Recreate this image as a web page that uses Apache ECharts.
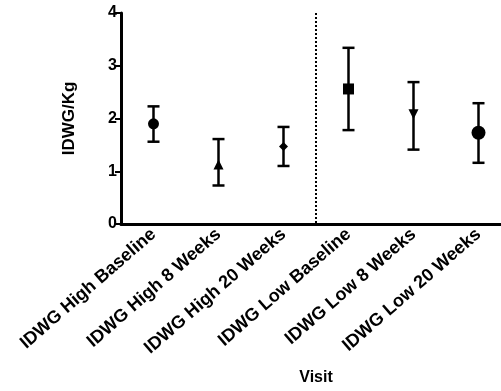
<!DOCTYPE html>
<html><head><meta charset="utf-8">
<script src="https://cdn.jsdelivr.net/npm/echarts@6/dist/echarts.min.js"></script>
<style>html,body{margin:0;padding:0;background:#fff;overflow:hidden}#c{width:520px;height:391px}</style>
</head><body><div id="c"></div>
<script>
const categories = ['IDWG High Baseline','IDWG High 8 Weeks','IDWG High 20 Weeks','IDWG Low Baseline','IDWG Low 8 Weeks','IDWG Low 20 Weeks'];
const means = [1.90, 1.13, 1.47, 2.56, 2.08, 1.73];
const upper = [2.23, 1.61, 1.84, 3.34, 2.69, 2.29];
const lower = [1.56, 0.73, 1.10, 1.78, 1.41, 1.16];
const symbols = ['circle','triangle','diamond','rect','path://M0,0L10,0L5,10Z','circle'];
const symbolSizes = [11, 10, 9, 11, 10, 14];
const yTicks = [0, 1, 2, 3, 4];
const dividerAt = 2.5;

const chart = echarts.init(document.getElementById('c'), null, {renderer:'canvas'});
const font = '"Liberation Sans", Arial, sans-serif';
const errData = categories.map((c,i)=>[i, lower[i], upper[i]]);
chart.setOption({
  animation:false,
  backgroundColor:'#fff',
  grid:{left:121, top:13, height:211, width:390, containLabel:false},
  xAxis:{type:'category', data:categories, boundaryGap:true,
    axisLine:{lineStyle:{color:'#000', width:3}},
    axisTick:{alignWithLabel:true, length:6, lineStyle:{color:'#000', width:3}},
    axisLabel:{rotate:41, color:'#000', fontWeight:'bold', fontSize:18, fontFamily:font, margin:8, interval:0},
    name:'Visit', nameLocation:'middle', nameGap:146,
    nameTextStyle:{color:'#000', fontWeight:'bold', fontSize:16, fontFamily:font}},
  yAxis:{type:'value', min:yTicks[0], max:yTicks[yTicks.length-1], interval:1,
    axisLine:{show:true, lineStyle:{color:'#000', width:3}},
    axisTick:{show:true, length:6, lineStyle:{color:'#000', width:2}},
    splitLine:{show:false},
    axisLabel:{color:'#000', fontWeight:'bold', fontSize:16, fontFamily:font, margin:4},
    name:'IDWG/Kg', nameLocation:'middle', nameGap:43, nameRotate:90,
    nameTextStyle:{color:'#000', fontWeight:'bold', fontSize:17, fontFamily:font}},
  series:[
    {type:'custom', data:errData, z:3,
      renderItem:function(params, api){
        const x = api.value(0);
        const lo = api.coord([x, api.value(1)]);
        const hi = api.coord([x, api.value(2)]);
        const hw = 6;
        const st = {stroke:'#000', lineWidth:2.5};
        return {type:'group', children:[
          {type:'line', shape:{x1:hi[0], y1:hi[1], x2:lo[0], y2:lo[1]}, style:st},
          {type:'line', shape:{x1:hi[0]-hw, y1:hi[1], x2:hi[0]+hw, y2:hi[1]}, style:st},
          {type:'line', shape:{x1:lo[0]-hw, y1:lo[1], x2:lo[0]+hw, y2:lo[1]}, style:st}
        ]};
      }},
    {type:'custom', data:[[dividerAt]], z:1,
      renderItem:function(params, api){
        const v = api.value(0);
        const a = api.coord([Math.floor(v), yTicks[yTicks.length-1]]);
        const b = api.coord([Math.ceil(v), yTicks[0]]);
        const x = (a[0]+b[0])/2;
        return {type:'line', shape:{x1:x, y1:a[1], x2:x, y2:b[1]}, style:{stroke:'#000', lineWidth:2, lineDash:[2,2]}};
      }},
    {type:'scatter', z:4, data:means.map((m,i)=>({value:[i,m], symbol:symbols[i], symbolSize:symbolSizes[i]})),
      itemStyle:{color:'#000', opacity:1}}
  ]
});
</script></body></html>
